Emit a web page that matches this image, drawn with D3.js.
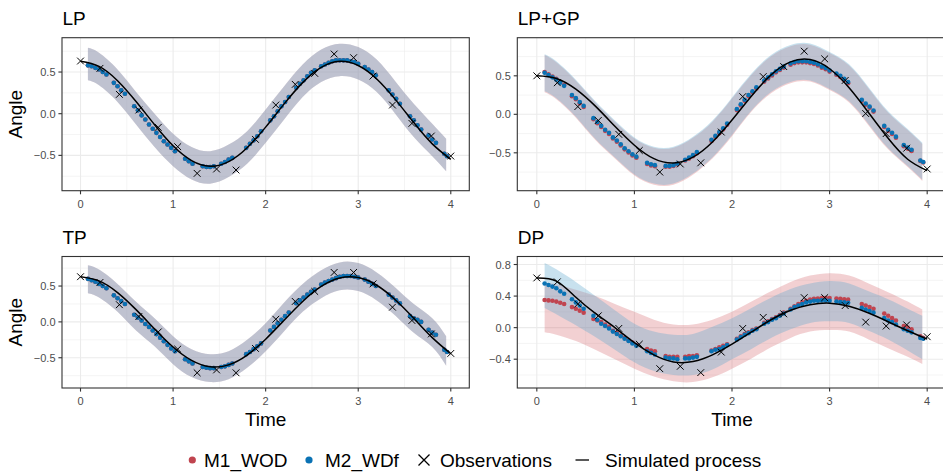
<!DOCTYPE html>
<html><head><meta charset="utf-8">
<script src="https://cdn.jsdelivr.net/npm/d3@7"></script>
<style>
body{margin:0;background:#fff}
svg{display:block}
text{font-family:"Liberation Sans",Arial,Helvetica,sans-serif}
</style>
</head><body>
<svg id="chart" width="943" height="474"></svg>
<script>
// ---------------- DATA ----------------
const panelTitles = ["LP", "LP+GP", "TP", "DP"];
const xTicks = [0, 1, 2, 3, 4];
const yTicksA = [-0.5, 0.0, 0.5];
const yTicksDP = [-0.4, 0.0, 0.4, 0.8];
const seriesNames = ["M1_WOD", "M2_WDf", "Observations", "Simulated process"];

const lineTimes = [0,0.2,0.4,0.6,0.8,1.0,1.2,1.4,1.6,1.8,2.0,2.2,2.4,2.6,2.8,3.0,3.2,3.4,3.6,3.8,4.0];
const bandTimes = [0.08,0.2,0.4,0.6,0.8,1.0,1.2,1.4,1.6,1.8,2.0,2.2,2.4,2.6,2.8,3.0,3.2,3.4,3.6,3.8,3.95];
const obsTimes = [0,0.21,0.42,0.63,0.84,1.05,1.26,1.47,1.68,1.89,2.11,2.32,2.53,2.74,2.95,3.16,3.37,3.58,3.79,4.0];
const predTimes = [0.08,0.12,0.16,0.20,0.24,0.28, 0.36,0.40,0.44,0.48, 0.58,0.62,0.66,0.70,0.74,
  0.78,0.82,0.86,0.90,0.94,0.98,1.02, 1.13,1.17,1.21, 1.32,1.36,1.40,1.44, 1.52,1.56,1.60,1.64,
  1.79,1.83,1.87,1.91,1.95, 2.05,2.09,2.13,2.17,2.21,2.25, 2.33,2.37,2.41,2.45,2.49,2.53,
  2.60,2.64,2.68,2.72,2.76,2.80,2.84,2.88,2.92,2.96,3.00, 3.07,3.11,3.15,3.19, 3.33,3.37,3.41,3.45,
  3.56,3.60,3.64,3.68, 3.76,3.80,3.84, 3.93,3.96];

// LP
const lpLine = [0.63,0.568,0.396,0.146,-0.132,-0.385,-0.562,-0.630,-0.575,-0.408,-0.161,0.118,0.373,0.555,0.629,0.578,0.417,0.172,-0.106,-0.362,-0.548];
const lpObs = [0.632,0.544,0.232,0.044,-0.164,-0.396,-0.716,-0.664,-0.676,-0.308,0.104,0.352,0.484,0.716,0.672,0.452,0.104,-0.116,-0.268,-0.508];
const lpM2 = [0.58,0.57,0.55,0.53,0.50,0.47, 0.37,0.33,0.28,0.24, 0.09,0.04,-0.02,-0.07,-0.13,
  -0.18,-0.23,-0.28,-0.33,-0.37,-0.41,-0.45, -0.54,-0.57,-0.60, -0.63,-0.64,-0.64,-0.63, -0.60,-0.58,-0.55,-0.53,
  -0.41,-0.36,-0.32,-0.27,-0.21, -0.08,-0.03,0.03,0.09,0.14,0.20, 0.31,0.36,0.40,0.45,0.49,0.52,
  0.57,0.59,0.61,0.63,0.64,0.64,0.64,0.64,0.63,0.62,0.60, 0.56,0.53,0.50,0.46, 0.28,0.23,0.18,0.12,
  -0.03,-0.08,-0.14,-0.19, -0.26,-0.31,-0.35, -0.48,-0.51];
const lpM1 = [0.58,0.57,0.55,0.53,0.50,0.47, 0.37,0.33,0.28,0.24, 0.09,0.04,-0.02,-0.07,-0.13,
  -0.18,-0.23,-0.28,-0.33,-0.37,-0.41,-0.45, -0.54,-0.57,-0.60, -0.63,-0.64,-0.64,-0.63, -0.60,-0.58,-0.55,-0.53,
  -0.41,-0.36,-0.32,-0.27,-0.21, -0.08,-0.03,0.03,0.09,0.14,0.20, 0.31,0.36,0.40,0.45,0.49,0.52,
  0.57,0.59,0.61,0.63,0.64,0.64,0.64,0.64,0.63,0.62,0.60, 0.56,0.53,0.50,0.46, 0.28,0.23,0.18,0.12,
  -0.03,-0.08,-0.14,-0.19, -0.26,-0.31,-0.35, -0.48,-0.51];
const lpM2Upper = [0.79,0.73,0.53,0.26,0.00,-0.24,-0.40,-0.45,-0.37,-0.21,0.05,0.33,0.59,0.77,0.84,0.80,0.65,0.39,0.12,-0.12,-0.30];
const lpM2Lower = [0.40,0.34,0.14,-0.13,-0.40,-0.63,-0.79,-0.84,-0.76,-0.60,-0.35,-0.07,0.20,0.38,0.45,0.41,0.26,0.00,-0.28,-0.51,-0.69];
const lpM1Upper = [0.79,0.73,0.53,0.26,0.00,-0.24,-0.40,-0.45,-0.37,-0.21,0.05,0.33,0.59,0.77,0.84,0.80,0.65,0.39,0.12,-0.12,-0.30];
const lpM1Lower = [0.40,0.34,0.14,-0.13,-0.40,-0.63,-0.79,-0.84,-0.76,-0.60,-0.35,-0.07,0.20,0.38,0.45,0.41,0.26,0.00,-0.28,-0.51,-0.69];

// LP+GP
const lpgpLine = [0.50,0.466,0.327,0.106,-0.155,-0.401,-0.576,-0.633,-0.557,-0.359,-0.074,0.238,0.512,0.681,0.711,0.592,0.345,0.021,-0.311,-0.583,-0.732];
const lpgpObs = [0.50,0.41,0.10,-0.08,-0.26,-0.47,-0.75,-0.645,-0.63,-0.23,0.23,0.49,0.62,0.82,0.72,0.44,0.01,-0.25,-0.44,-0.71];
const lpgpM2 = [0.54,0.51,0.48,0.45,0.41,0.37, 0.25,0.21,0.16,0.11, -0.05,-0.10,-0.15,-0.20,-0.24,
  -0.30,-0.34,-0.39,-0.44,-0.48,-0.52,-0.55, -0.63,-0.65,-0.66, -0.67,-0.67,-0.66,-0.64, -0.59,-0.56,-0.53,-0.49,
  -0.33,-0.28,-0.23,-0.18,-0.12, 0.07,0.13,0.19,0.25,0.30,0.35, 0.44,0.48,0.52,0.56,0.59,0.62,
  0.66,0.68,0.69,0.69,0.69,0.68,0.67,0.65,0.62,0.60,0.57, 0.53,0.50,0.46,0.42, 0.19,0.14,0.10,0.05,
  -0.15,-0.20,-0.24,-0.29, -0.40,-0.43,-0.46, -0.60,-0.62];
const lpgpM1 = [0.55,0.52,0.49,0.46,0.42,0.38, 0.235,0.195,0.145,0.095, -0.065,-0.115,-0.165,-0.215,-0.255,
  -0.315,-0.355,-0.405,-0.455,-0.495,-0.535,-0.565, -0.645,-0.665,-0.675, -0.68,-0.68,-0.67,-0.65, -0.60,-0.575,-0.545,-0.505,
  -0.345,-0.295,-0.245,-0.195,-0.135, 0.055,0.115,0.175,0.235,0.285,0.335, 0.425,0.465,0.505,0.545,0.575,0.605,
  0.645,0.665,0.675,0.675,0.675,0.665,0.655,0.635,0.605,0.585,0.555, 0.515,0.485,0.445,0.405, 0.175,0.125,0.085,0.035,
  -0.165,-0.215,-0.255,-0.305, -0.415,-0.445,-0.475, -0.605,-0.625];
const lpgpM2Upper = [0.78,0.69,0.45,0.17,-0.08,-0.30,-0.42,-0.42,-0.29,-0.08,0.22,0.53,0.77,0.90,0.92,0.81,0.65,0.35,0.04,-0.19,-0.37];
const lpgpM2Lower = [0.30,0.21,-0.03,-0.32,-0.56,-0.78,-0.90,-0.90,-0.77,-0.56,-0.27,0.05,0.29,0.42,0.44,0.33,0.17,-0.13,-0.44,-0.67,-0.85];
const lpgpM1Upper = [0.77,0.675,0.435,0.155,-0.095,-0.315,-0.435,-0.435,-0.305,-0.095,0.205,0.515,0.755,0.885,0.905,0.795,0.635,0.335,0.025,-0.205,-0.385];
const lpgpM1Lower = [0.285,0.195,-0.045,-0.335,-0.575,-0.795,-0.915,-0.915,-0.785,-0.575,-0.285,0.035,0.275,0.405,0.425,0.315,0.155,-0.145,-0.455,-0.685,-0.865];

// TP
const tpLine = [0.63,0.572,0.409,0.171,-0.098,-0.350,-0.537,-0.626,-0.599,-0.463,-0.241,0.024,0.285,0.494,0.612,0.618,0.511,0.309,0.050,-0.219,-0.444];
const tpObs = [0.63,0.55,0.24,0.075,-0.14,-0.38,-0.71,-0.67,-0.71,-0.37,0.037,0.285,0.425,0.69,0.69,0.53,0.205,0.02,-0.168,-0.44];
const tpM2 = [0.60,0.58,0.56,0.53,0.50,0.47, 0.37,0.33,0.29,0.25, 0.10,0.06,0.02,-0.03,-0.07,
  -0.12,-0.17,-0.22,-0.27,-0.32,-0.37,-0.41, -0.52,-0.55,-0.58, -0.63,-0.64,-0.645,-0.645, -0.63,-0.62,-0.60,-0.58,
  -0.45,-0.42,-0.38,-0.34,-0.30, -0.12,-0.07,-0.02,0.03,0.08,0.13, 0.26,0.30,0.34,0.38,0.42,0.45,
  0.52,0.55,0.57,0.59,0.61,0.63,0.64,0.64,0.64,0.63,0.62, 0.59,0.56,0.53,0.50, 0.38,0.34,0.30,0.26,
  0.08,0.05,0.03,0.00, -0.11,-0.15,-0.18, -0.39,-0.42];
const tpM1 = [0.60,0.58,0.56,0.53,0.50,0.47, 0.37,0.33,0.29,0.25, 0.10,0.06,0.02,-0.03,-0.07,
  -0.12,-0.17,-0.22,-0.27,-0.32,-0.37,-0.41, -0.52,-0.55,-0.58, -0.63,-0.64,-0.645,-0.645, -0.63,-0.62,-0.60,-0.58,
  -0.45,-0.42,-0.38,-0.34,-0.30, -0.12,-0.07,-0.02,0.03,0.08,0.13, 0.26,0.30,0.34,0.38,0.42,0.45,
  0.52,0.55,0.57,0.59,0.61,0.63,0.64,0.64,0.64,0.63,0.62, 0.59,0.56,0.53,0.50, 0.38,0.34,0.30,0.26,
  0.08,0.05,0.03,0.00, -0.11,-0.15,-0.18, -0.39,-0.42];
const tpM2Upper = [0.79,0.73,0.53,0.28,0.05,-0.20,-0.38,-0.45,-0.41,-0.25,-0.02,0.27,0.53,0.72,0.83,0.82,0.69,0.48,0.25,0.05,-0.20];
const tpM2Lower = [0.40,0.34,0.14,-0.12,-0.34,-0.59,-0.77,-0.84,-0.80,-0.64,-0.41,-0.13,0.14,0.33,0.44,0.43,0.30,0.09,-0.15,-0.35,-0.61];
const tpM1Upper = [0.79,0.73,0.53,0.28,0.05,-0.20,-0.38,-0.45,-0.41,-0.25,-0.02,0.27,0.53,0.72,0.83,0.82,0.69,0.48,0.25,0.05,-0.20];
const tpM1Lower = [0.40,0.34,0.14,-0.12,-0.34,-0.59,-0.77,-0.84,-0.80,-0.64,-0.41,-0.13,0.14,0.33,0.44,0.43,0.30,0.09,-0.15,-0.35,-0.61];

// DP
const dpLine = [0.63,0.59,0.385,0.18,0.0,-0.19,-0.345,-0.435,-0.43,-0.345,-0.21,-0.055,0.10,0.22,0.29,0.31,0.27,0.185,0.075,-0.04,-0.145];
const dpObs = [0.63,0.58,0.30,0.15,-0.01,-0.21,-0.52,-0.49,-0.57,-0.31,-0.01,0.13,0.175,0.38,0.38,0.28,0.07,0.02,0.035,-0.115];
const dpM2 = [0.56,0.54,0.52,0.50,0.46,0.43, 0.36,0.32,0.28,0.24, 0.15,0.10,0.05,0.02,-0.01,
  -0.05,-0.08,-0.11,-0.14,-0.17,-0.20,-0.23, -0.30,-0.32,-0.34, -0.38,-0.39,-0.39,-0.40, -0.39,-0.39,-0.38,-0.37,
  -0.30,-0.28,-0.27,-0.25,-0.22, -0.15,-0.12,-0.09,-0.07,-0.04,-0.02, 0.05,0.07,0.10,0.12,0.15,0.18,
  0.23,0.26,0.28,0.30,0.32,0.33,0.34,0.34,0.345,0.345,0.34, 0.33,0.325,0.32,0.315, 0.25,0.23,0.21,0.19,
  0.12,0.09,0.07,0.04, -0.02,-0.04,-0.06, -0.13,-0.14];
const dpM1 = [0.35,0.345,0.34,0.33,0.315,0.30, 0.26,0.24,0.215,0.19, 0.11,0.09,0.07,0.04,0.01,
  -0.04,-0.07,-0.10,-0.13,-0.16,-0.19,-0.22, -0.27,-0.29,-0.30, -0.36,-0.37,-0.37,-0.37, -0.37,-0.36,-0.36,-0.35,
  -0.29,-0.27,-0.25,-0.23,-0.21, -0.14,-0.11,-0.08,-0.06,-0.03,-0.01, 0.06,0.08,0.11,0.13,0.16,0.19,
  0.24,0.27,0.30,0.32,0.34,0.355,0.365,0.37,0.375,0.375,0.375, 0.37,0.365,0.36,0.355, 0.30,0.28,0.26,0.24,
  0.18,0.15,0.12,0.09, 0.02,0.00,-0.02, -0.11,-0.13];
const dpM2Upper = [0.82,0.74,0.58,0.40,0.22,0.05,-0.05,-0.09,-0.08,0.01,0.12,0.25,0.38,0.49,0.56,0.59,0.56,0.46,0.36,0.24,0.15];
const dpM2Lower = [0.25,0.17,0.03,-0.12,-0.28,-0.44,-0.55,-0.60,-0.60,-0.53,-0.40,-0.27,-0.13,-0.02,0.06,0.08,0.06,-0.04,-0.15,-0.29,-0.40];
const dpM1Upper = [0.57,0.55,0.48,0.40,0.30,0.20,0.10,0.04,0.04,0.10,0.20,0.33,0.46,0.58,0.66,0.69,0.66,0.56,0.45,0.33,0.23];
const dpM1Lower = [-0.06,-0.09,-0.17,-0.28,-0.40,-0.52,-0.62,-0.68,-0.69,-0.63,-0.52,-0.39,-0.25,-0.13,-0.05,-0.03,-0.05,-0.15,-0.26,-0.37,-0.46];

// ---------------- STYLE / LAYOUT ----------------
const colM1 = "#C0444F", colM2 = "#0A72B4";
const bandM1 = "rgb(212,98,105)", bandM1Op = 0.30;
const bandM2 = "rgb(98,169,206)", bandM2Op = 0.35;

const panels = [
  {title: panelTitles[0], x0: 62, x1: 469.3, y0: 37.7, y1: 190.7, ydom: [-0.924, 0.912], yt: yTicksA, yAxisTitle: true, xAxisTitle: false,
   line: lpLine, obs: lpObs, m1: lpM1, m2: lpM2, m1Lo: lpM1Lower, m1Hi: lpM1Upper, m2Lo: lpM2Lower, m2Hi: lpM2Upper},
  {title: panelTitles[1], x0: 517.3, x1: 946.7, y0: 37.7, y1: 190.7, ydom: [-0.992, 0.995], yt: yTicksA, yAxisTitle: false, xAxisTitle: false,
   line: lpgpLine, obs: lpgpObs, m1: lpgpM1, m2: lpgpM2, m1Lo: lpgpM1Lower, m1Hi: lpgpM1Upper, m2Lo: lpgpM2Lower, m2Hi: lpgpM2Upper},
  {title: panelTitles[2], x0: 62, x1: 469.3, y0: 256.5, y1: 388, ydom: [-0.922, 0.912], yt: yTicksA, yAxisTitle: true, xAxisTitle: true,
   line: tpLine, obs: tpObs, m1: tpM1, m2: tpM2, m1Lo: tpM1Lower, m1Hi: tpM1Upper, m2Lo: tpM2Lower, m2Hi: tpM2Upper},
  {title: panelTitles[3], x0: 517.3, x1: 946.7, y0: 256.5, y1: 388, ydom: [-0.765, 0.9016], yt: yTicksDP, yAxisTitle: false, xAxisTitle: true,
   line: dpLine, obs: dpObs, m1: dpM1, m2: dpM2, m1Lo: dpM1Lower, m1Hi: dpM1Upper, m2Lo: dpM2Lower, m2Hi: dpM2Upper}
];

const svg = d3.select("#chart");
svg.append("rect").attr("width", 943).attr("height", 474).attr("fill", "#fff");
const fmt = v => (v < 0 ? "\u2212" : "") + Math.abs(v).toFixed(1);

panels.forEach((p, i) => {
  const x = d3.scaleLinear().domain([-0.2, 4.2]).range([p.x0, p.x1]);
  const y = d3.scaleLinear().domain(p.ydom).range([p.y1, p.y0]);
  const g = svg.append("g");
  const cid = "clip" + i;
  svg.append("clipPath").attr("id", cid).append("rect")
    .attr("x", p.x0).attr("y", p.y0).attr("width", p.x1 - p.x0).attr("height", p.y1 - p.y0);
  const inner = g.append("g").attr("clip-path", `url(#${cid})`);

  // grid
  const step = p.yt[1] - p.yt[0];
  const yMinor = [p.yt[0] - step / 2].concat(p.yt.map(v => v + step / 2));
  const xMinor = xTicks.slice(0, -1).map(v => v + 0.5);
  inner.selectAll(".gmx").data(xMinor).enter().append("line")
    .attr("x1", d => x(d)).attr("x2", d => x(d)).attr("y1", p.y0).attr("y2", p.y1)
    .attr("stroke", "#EBEBEB").attr("stroke-width", 0.55);
  inner.selectAll(".gmy").data(yMinor).enter().append("line")
    .attr("y1", d => y(d)).attr("y2", d => y(d)).attr("x1", p.x0).attr("x2", p.x1)
    .attr("stroke", "#EBEBEB").attr("stroke-width", 0.55);
  inner.selectAll(".gx").data(xTicks).enter().append("line")
    .attr("x1", d => x(d)).attr("x2", d => x(d)).attr("y1", p.y0).attr("y2", p.y1)
    .attr("stroke", "#EBEBEB").attr("stroke-width", 1.1);
  inner.selectAll(".gy").data(p.yt).enter().append("line")
    .attr("y1", d => y(d)).attr("y2", d => y(d)).attr("x1", p.x0).attr("x2", p.x1)
    .attr("stroke", "#EBEBEB").attr("stroke-width", 1.1);

  // bands
  const band = (lo, hi) => d3.area().curve(d3.curveNatural)
    .x((d, k) => x(bandTimes[k])).y0((d, k) => y(lo[k])).y1((d, k) => y(hi[k]))(bandTimes);
  inner.append("path").attr("d", band(p.m1Lo, p.m1Hi)).attr("fill", bandM1).attr("fill-opacity", bandM1Op);
  inner.append("path").attr("d", band(p.m2Lo, p.m2Hi)).attr("fill", bandM2).attr("fill-opacity", bandM2Op);

  // dots
  inner.selectAll(".d1").data(p.m1).enter().append("circle")
    .attr("cx", (d, k) => x(predTimes[k])).attr("cy", d => y(d)).attr("r", 2.3).attr("fill", colM1);
  inner.selectAll(".d2").data(p.m2).enter().append("circle")
    .attr("cx", (d, k) => x(predTimes[k])).attr("cy", d => y(d)).attr("r", 2.3).attr("fill", colM2);

  // simulated line
  inner.append("path")
    .attr("d", d3.line().curve(d3.curveNatural).x((d, k) => x(lineTimes[k])).y(d => y(d))(p.line))
    .attr("fill", "none").attr("stroke", "#000").attr("stroke-width", 1.5);

  // observations
  const s = 3.4;
  inner.selectAll(".ob").data(p.obs).enter().append("path")
    .attr("d", (d, k) => {
      const cx = x(obsTimes[k]), cy = y(d);
      return `M${cx - s},${cy - s}L${cx + s},${cy + s}M${cx - s},${cy + s}L${cx + s},${cy - s}`;
    })
    .attr("stroke", "#000").attr("stroke-width", 1);

  // border
  g.append("rect").attr("x", p.x0).attr("y", p.y0).attr("width", p.x1 - p.x0).attr("height", p.y1 - p.y0)
    .attr("fill", "none").attr("stroke", "#333").attr("stroke-width", 1.1);

  // axes ticks
  g.selectAll(".tx").data(xTicks).enter().append("line")
    .attr("x1", d => x(d)).attr("x2", d => x(d)).attr("y1", p.y1).attr("y2", p.y1 + 3.6)
    .attr("stroke", "#333").attr("stroke-width", 1.1);
  g.selectAll(".txl").data(xTicks).enter().append("text")
    .attr("x", d => x(d)).attr("y", p.y1 + 17).attr("text-anchor", "middle")
    .attr("font-size", 11).attr("fill", "#4D4D4D").text(d => d);
  g.selectAll(".ty").data(p.yt).enter().append("line")
    .attr("x1", p.x0 - 3.6).attr("x2", p.x0).attr("y1", d => y(d)).attr("y2", d => y(d))
    .attr("stroke", "#333").attr("stroke-width", 1.1);
  g.selectAll(".tyl").data(p.yt).enter().append("text")
    .attr("x", p.x0 - 6.5).attr("y", d => y(d) + 4).attr("text-anchor", "end")
    .attr("font-size", 11).attr("fill", "#4D4D4D").text(d => fmt(d));

  // title
  g.append("text").attr("x", p.x0 + 0.5).attr("y", p.y0 - 13).attr("font-size", 19).attr("fill", "#000").text(p.title);

  if (p.yAxisTitle) {
    g.append("text").attr("transform", `translate(22,${(p.y0 + p.y1) / 2}) rotate(-90)`)
      .attr("text-anchor", "middle").attr("font-size", 19).attr("fill", "#000").text("Angle");
  }
  if (p.xAxisTitle) {
    g.append("text").attr("x", (p.x0 + p.x1) / 2).attr("y", 425.7)
      .attr("text-anchor", "middle").attr("font-size", 19).attr("fill", "#000").text("Time");
  }
});

// ---------------- LEGEND ----------------
const lg = svg.append("g");
const ly = 460;
lg.append("circle").attr("cx", 192.3).attr("cy", ly).attr("r", 3.6).attr("fill", colM1);
lg.append("text").attr("x", 204).attr("y", ly + 6.5).attr("font-size", 19).text(seriesNames[0]);
lg.append("circle").attr("cx", 309).attr("cy", ly).attr("r", 3.6).attr("fill", colM2);
lg.append("text").attr("x", 325).attr("y", ly + 6.5).attr("font-size", 19).text(seriesNames[1]);
const lx = 424, ls = 5.5;
lg.append("path").attr("d", `M${lx - ls},${ly - ls}L${lx + ls},${ly + ls}M${lx - ls},${ly + ls}L${lx + ls},${ly - ls}`)
  .attr("stroke", "#000").attr("stroke-width", 1.3);
lg.append("text").attr("x", 440).attr("y", ly + 6.5).attr("font-size", 19).text(seriesNames[2]);
lg.append("line").attr("x1", 575.5).attr("x2", 589).attr("y1", ly).attr("y2", ly).attr("stroke", "#000").attr("stroke-width", 1.3);
lg.append("text").attr("x", 605).attr("y", ly + 6.5).attr("font-size", 19).text(seriesNames[3]);
</script>
</body></html>
